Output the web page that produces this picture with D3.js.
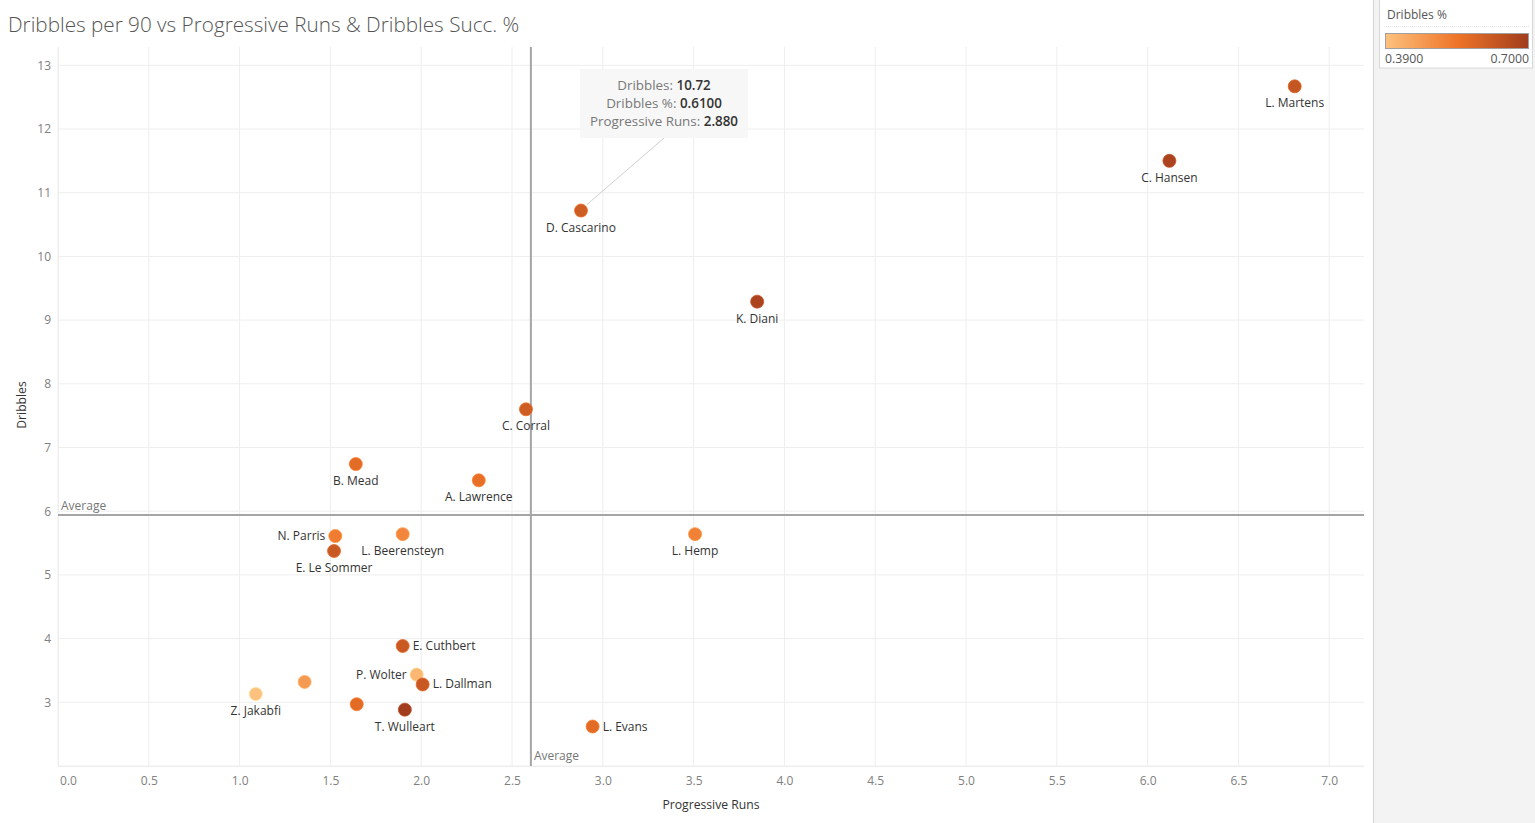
<!DOCTYPE html>
<html>
<head>
<meta charset="utf-8">
<script src="https://cdn.jsdelivr.net/npm/d3@7"></script>
<style>
  html, body { margin: 0; padding: 0; background: #fff; }
  svg { display: block; font-family: "Open Sans", Lato, sans-serif; }
</style>
</head>
<body>
<svg id="chart" width="1535" height="823"></svg>
<script>
// ---------------- data ----------------
const players = ["L. Martens", "C. Hansen", "D. Cascarino", "K. Diani", "C. Corral", "B. Mead",
  "A. Lawrence", "N. Parris", "E. Le Sommer", "L. Beerensteyn", "L. Hemp", "E. Cuthbert",
  "P. Wolter", "L. Dallman", "", "Z. Jakabfi", "", "T. Wulleart", "L. Evans"];
const progressiveRuns = [6.81, 6.12, 2.88, 3.85, 2.577, 1.64, 2.317, 1.527, 1.52, 1.898, 3.508, 1.898,
  1.975, 2.008, 1.358, 1.089, 1.645, 1.91, 2.944];
const dribbles = [12.67, 11.50, 10.72, 9.29, 7.60, 6.74, 6.485, 5.61, 5.375, 5.64, 5.64, 3.884,
  3.435, 3.28, 3.32, 3.13, 2.97, 2.885, 2.62];
const dribblesPct = [0.63, 0.68, 0.61, 0.68, 0.61, 0.57, 0.56, 0.53, 0.62, 0.51, 0.52, 0.62,
  0.41, 0.62, 0.47, 0.39, 0.57, 0.70, 0.57];
// label placement: b = below, l = left, r = right
const labelPos = ["b", "b", "b", "b", "b", "b", "b", "l", "b", "b", "b", "r", "l", "r", "b", "b", "b", "b", "r"];
const xTicks = [0, 0.5, 1, 1.5, 2, 2.5, 3, 3.5, 4, 4.5, 5, 5.5, 6, 6.5, 7];
const yTicks = [3, 4, 5, 6, 7, 8, 9, 10, 11, 12, 13];
const avgProgressiveRuns = 2.604;
const avgDribbles = 5.94;
const pctRange = [0.39, 0.70];
const titleText = "Dribbles per 90 vs Progressive Runs & Dribbles Succ. %";
const tooltipIndex = 2;

// ---------------- layout ----------------
const svg = d3.select("#chart");
const pL = 58, pR = 1364, pT = 47, pB = 766;

const x = d3.scaleLinear().domain([0, (pR - pL) / 181.6]).range([pL, pR]);
const y = d3.scaleLinear().domain([2, 2 + (pB - pT) / 63.7]).range([pB, pT]);
const color = d3.scaleLinear()
  .domain([pctRange[0], (pctRange[0] + pctRange[1]) / 2, pctRange[1]])
  .range(["#fdc27f", "#ee7428", "#a13d1d"]);

// right panel
svg.append("rect").attr("x", 1373).attr("y", 0).attr("width", 162).attr("height", 823).attr("fill", "#f3f3f3");
svg.append("line").attr("x1", 1373.5).attr("x2", 1373.5).attr("y1", 0).attr("y2", 823).attr("stroke", "#d4d4d4");

// title
svg.append("text").attr("x", 8).attr("y", 32).attr("font-size", 20.7).attr("fill", "#555")
  .attr("font-weight", 300).text(titleText);

// gridlines
const g = svg.append("g");
g.selectAll(".vg").data(xTicks).join("line")
  .attr("x1", d => x(d)).attr("x2", d => x(d)).attr("y1", pT).attr("y2", pB)
  .attr("stroke", "#eeeeee").attr("stroke-width", 1);
g.selectAll(".hg").data(yTicks.concat([2])).join("line")
  .attr("x1", pL).attr("x2", pR).attr("y1", d => y(d)).attr("y2", d => y(d))
  .attr("stroke", "#eeeeee").attr("stroke-width", 1);

// axes via d3
const xAxis = d3.axisBottom(x).tickValues(xTicks).tickFormat(d3.format(".1f")).tickSize(0).tickPadding(10);
const xg = svg.append("g").attr("transform", `translate(0,${pB})`).call(xAxis);
xg.select(".domain").attr("stroke", "#eeeeee");
xg.selectAll("text").attr("font-size", 12).attr("fill", "#808080")
  .attr("font-family", "'Open Sans', sans-serif")
  .attr("dx", d => d === 0 ? 10 : 0);

const yAxis = d3.axisLeft(y).tickValues(yTicks).tickFormat(d3.format("d")).tickSize(0).tickPadding(7);
const yg = svg.append("g").attr("transform", `translate(${pL},0)`).call(yAxis);
yg.select(".domain").attr("stroke", "#eeeeee");
yg.selectAll("text").attr("font-size", 12).attr("fill", "#808080").attr("font-family", "'Open Sans', sans-serif");

// axis titles
svg.append("text").attr("x", 711).attr("y", 809).attr("text-anchor", "middle")
  .attr("font-size", 12.2).attr("fill", "#333").text("Progressive Runs");
svg.append("text").attr("transform", "translate(26,405) rotate(-90)").attr("text-anchor", "middle")
  .attr("font-size", 12.2).attr("fill", "#333").text("Dribbles");

// average reference lines
svg.append("line").attr("x1", x(avgProgressiveRuns)).attr("x2", x(avgProgressiveRuns))
  .attr("y1", pT).attr("y2", pB).attr("stroke", "#a5a5a5").attr("stroke-width", 2);
svg.append("line").attr("x1", pL).attr("x2", pR)
  .attr("y1", y(avgDribbles)).attr("y2", y(avgDribbles)).attr("stroke", "#a5a5a5").attr("stroke-width", 2);
svg.append("text").attr("x", pL + 3).attr("y", y(avgDribbles) - 5).attr("font-size", 12)
  .attr("fill", "#777").text("Average");
svg.append("text").attr("x", x(avgProgressiveRuns) + 3).attr("y", pB - 6).attr("font-size", 12)
  .attr("fill", "#777").text("Average");

// data
const data = players.map((p, i) => ({
  name: p, pr: progressiveRuns[i], dr: dribbles[i], pct: dribblesPct[i], pos: labelPos[i]
}));

// tooltip annotation
const tp = data[tooltipIndex];
const boxX = 580, boxY = 69, boxW = 168, boxH = 69;
svg.append("line").attr("x1", boxX + boxW / 2).attr("y1", boxY + boxH)
  .attr("x2", x(tp.pr) + 6).attr("y2", y(tp.dr) - 6).attr("stroke", "#d0d0d0").attr("stroke-width", 1);
svg.append("rect").attr("x", boxX).attr("y", boxY).attr("width", boxW).attr("height", boxH)
  .attr("fill", "#f7f7f7").attr("fill-opacity", 0.95);
const tt = svg.append("g").attr("font-size", 13.4).attr("text-anchor", "middle");
const ttLines = [
  ["Dribbles: ", d3.format(".2f")(tp.dr)],
  ["Dribbles %: ", d3.format(".4f")(tp.pct)],
  ["Progressive Runs: ", d3.format(".3f")(tp.pr)]
];
ttLines.forEach((l, i) => {
  const t = tt.append("text").attr("x", boxX + boxW / 2).attr("y", boxY + 21 + i * 18);
  t.append("tspan").attr("fill", "#777").text(l[0]);
  t.append("tspan").attr("fill", "#333").attr("font-weight", 600).text(l[1]);
});

// points
svg.append("g").selectAll("circle").data(data).join("circle")
  .attr("cx", d => x(d.pr)).attr("cy", d => y(d.dr)).attr("r", 6.5)
  .attr("fill", d => color(d.pct)).attr("stroke", d => d3.color(color(d.pct)).brighter(0.4))
  .attr("stroke-width", 0.8);

// labels
svg.append("g").selectAll("text").data(data.filter(d => d.name)).join("text")
  .attr("x", d => d.pos === "b" ? x(d.pr) : d.pos === "l" ? x(d.pr) - 10 : x(d.pr) + 10)
  .attr("y", d => d.pos === "b" ? y(d.dr) + 21 : y(d.dr) + 4)
  .attr("text-anchor", d => d.pos === "b" ? "middle" : d.pos === "l" ? "end" : "start")
  .attr("font-size", 12).attr("fill", "#333").text(d => d.name);

// legend
const lg = svg.append("g");
lg.append("rect").attr("x", 1379.5).attr("y", -1).attr("width", 153).attr("height", 69)
  .attr("fill", "#fff").attr("stroke", "#d8d8d8");
lg.append("text").attr("x", 1387).attr("y", 19).attr("font-size", 12).attr("fill", "#555").text("Dribbles %");
lg.append("line").attr("x1", 1384).attr("x2", 1529).attr("y1", 26.5).attr("y2", 26.5)
  .attr("stroke", "#e6e6e6").attr("stroke-dasharray", "1,1");
const grad = svg.append("defs").append("linearGradient").attr("id", "lgGrad");
d3.range(0, 1.0001, 0.1).forEach(t => {
  grad.append("stop").attr("offset", t)
    .attr("stop-color", color(pctRange[0] + t * (pctRange[1] - pctRange[0])));
});
lg.append("rect").attr("x", 1385.5).attr("y", 33.5).attr("width", 143).attr("height", 15)
  .attr("fill", "url(#lgGrad)").attr("stroke", "#a0a0a0");
lg.append("text").attr("x", 1385).attr("y", 63).attr("font-size", 12.3).attr("fill", "#555")
  .text(d3.format(".4f")(pctRange[0]));
lg.append("text").attr("x", 1529).attr("y", 63).attr("text-anchor", "end").attr("font-size", 12.3)
  .attr("fill", "#555").text(d3.format(".4f")(pctRange[1]));
</script>
</body>
</html>
